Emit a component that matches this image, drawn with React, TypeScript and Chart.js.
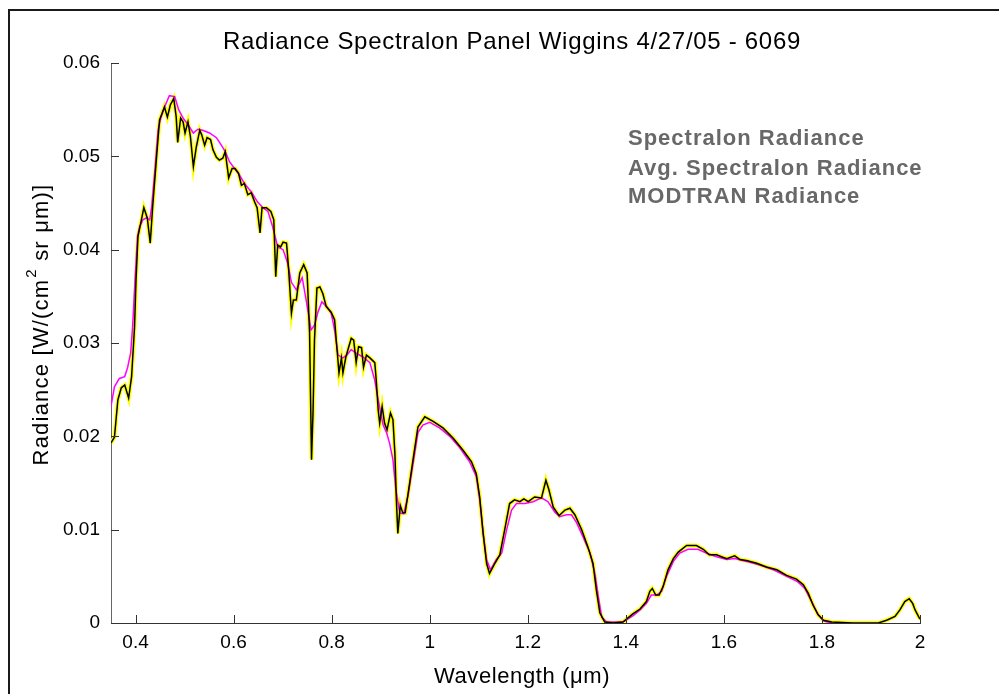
import React, { useEffect, useRef } from "react";
import { Chart, registerables } from "chart.js";

Chart.register(...registerables);

const TITLE = "Radiance Spectralon Panel Wiggins 4/27/05 - 6069";
const X_LABEL = "Wavelength (\u03bcm)";
const Y_LABEL_PARTS = ["Radiance [W/(cm", "2", " sr \u03bcm)]"];
const SERIES_NAMES = ["Spectralon Radiance", "Avg. Spectralon Radiance", "MODTRAN Radiance"];

const X_TICKS = [0.4, 0.6, 0.8, 1.0, 1.2, 1.4, 1.6, 1.8, 2.0];
const X_TICK_LABELS = ["0.4", "0.6", "0.8", "1", "1.2", "1.4", "1.6", "1.8", "2"];
const Y_TICKS = [0, 0.01, 0.02, 0.03, 0.04, 0.05, 0.06];
const Y_TICK_LABELS = ["0", "0.01", "0.02", "0.03", "0.04", "0.05", "0.06"];

// Measured spectralon (avg) spectrum
const avgWavelength = [
  0.350, 0.357, 0.364, 0.371, 0.378, 0.386, 0.392, 0.398, 0.401, 0.405,
  0.412, 0.417, 0.424, 0.430, 0.435, 0.442, 0.449, 0.454, 0.459, 0.465,
  0.471, 0.478, 0.483, 0.486, 0.492, 0.497, 0.501, 0.507, 0.512, 0.518,
  0.524, 0.531, 0.535, 0.541, 0.546, 0.553, 0.558, 0.565, 0.571, 0.578,
  0.583, 0.590, 0.597, 0.603, 0.610, 0.616, 0.622, 0.629, 0.636, 0.643,
  0.648, 0.654, 0.658, 0.667, 0.676, 0.682, 0.686, 0.690, 0.696, 0.701,
  0.708, 0.712, 0.718, 0.722, 0.728, 0.735, 0.743, 0.750, 0.755, 0.759,
  0.762, 0.765, 0.770, 0.776, 0.782, 0.789, 0.799, 0.806, 0.811, 0.815,
  0.820, 0.823, 0.829, 0.835, 0.840, 0.845, 0.850, 0.855, 0.861, 0.865,
  0.871, 0.878, 0.888, 0.891, 0.895, 0.898, 0.903, 0.908, 0.913, 0.920,
  0.925, 0.929, 0.932, 0.935, 0.940, 0.945, 0.950, 0.956, 0.966, 0.976,
  0.990, 1.007, 1.027, 1.048, 1.068, 1.085, 1.095, 1.102, 1.109, 1.116,
  1.122, 1.133, 1.143, 1.153, 1.163, 1.173, 1.184, 1.192, 1.201, 1.214,
  1.228, 1.237, 1.243, 1.252, 1.264, 1.276, 1.286, 1.296, 1.310, 1.323,
  1.333, 1.340, 1.347, 1.357, 1.374, 1.394, 1.415, 1.429, 1.442, 1.449,
  1.454, 1.461, 1.468, 1.476, 1.486, 1.497, 1.507, 1.524, 1.544, 1.558,
  1.570, 1.585, 1.595, 1.606, 1.622, 1.633, 1.646, 1.667, 1.687, 1.708,
  1.728, 1.748, 1.762, 1.772, 1.782, 1.792, 1.803, 1.820, 1.863, 1.915,
  1.932, 1.949, 1.959, 1.969, 1.978, 1.985, 1.990, 1.995, 2.000,
];
const avgRadiance = [
  0.0193, 0.0199, 0.0239, 0.0252, 0.0255, 0.0241, 0.0264, 0.0317, 0.0367, 0.0414,
  0.0432, 0.0445, 0.0434, 0.0407, 0.0446, 0.0493, 0.0539, 0.0546, 0.0553, 0.0542,
  0.0555, 0.0562, 0.0542, 0.0515, 0.0541, 0.0537, 0.0525, 0.0537, 0.0521, 0.0489,
  0.0510, 0.0528, 0.0523, 0.0512, 0.0520, 0.0518, 0.0507, 0.0499, 0.0496, 0.0498,
  0.0505, 0.0477, 0.0487, 0.0487, 0.0482, 0.0469, 0.0471, 0.0459, 0.0461, 0.0451,
  0.0445, 0.0418, 0.0445, 0.0445, 0.0441, 0.0432, 0.0371, 0.0405, 0.0403, 0.0408,
  0.0407, 0.0381, 0.0332, 0.0346, 0.0346, 0.0375, 0.0384, 0.0375, 0.0311, 0.0175,
  0.0225, 0.0303, 0.0359, 0.0360, 0.0353, 0.0339, 0.0333, 0.0325, 0.0293, 0.0268,
  0.0284, 0.0268, 0.0285, 0.0296, 0.0305, 0.0303, 0.0279, 0.0296, 0.0295, 0.0274,
  0.0287, 0.0284, 0.0279, 0.0260, 0.0228, 0.0214, 0.0232, 0.0214, 0.0207, 0.0225,
  0.0218, 0.0182, 0.0132, 0.0096, 0.0126, 0.0118, 0.0118, 0.0139, 0.0175, 0.0210,
  0.0221, 0.0216, 0.0209, 0.0198, 0.0185, 0.0173, 0.0160, 0.0135, 0.0096, 0.0064,
  0.0053, 0.0064, 0.0073, 0.0100, 0.0128, 0.0132, 0.0130, 0.0133, 0.0130, 0.0135,
  0.0134, 0.0153, 0.0143, 0.0124, 0.0115, 0.0121, 0.0123, 0.0116, 0.0100, 0.0081,
  0.0064, 0.0035, 0.0011, 0.0001, 0.0000, 0.0001, 0.0010, 0.0015, 0.0023, 0.0034,
  0.0037, 0.0030, 0.0030, 0.0039, 0.0057, 0.0069, 0.0076, 0.0083, 0.0083, 0.0079,
  0.0073, 0.0073, 0.0071, 0.0069, 0.0072, 0.0068, 0.0067, 0.0064, 0.0060, 0.0057,
  0.0051, 0.0047, 0.0041, 0.0032, 0.0019, 0.0009, 0.0003, 0.0001, 0.0000, 0.0000,
  0.0003, 0.0007, 0.0014, 0.0023, 0.0026, 0.0021, 0.0014, 0.0009, 0.0004,
];

// MODTRAN model spectrum
const modWavelength = [
  0.350, 0.357, 0.367, 0.378, 0.384, 0.390, 0.394, 0.399, 0.404, 0.408,
  0.415, 0.422, 0.429, 0.433, 0.439, 0.446, 0.452, 0.461, 0.469, 0.480,
  0.488, 0.497, 0.507, 0.518, 0.527, 0.537, 0.551, 0.565, 0.575, 0.583,
  0.592, 0.602, 0.612, 0.622, 0.636, 0.649, 0.660, 0.670, 0.680, 0.690,
  0.701, 0.710, 0.718, 0.728, 0.740, 0.748, 0.758, 0.765, 0.772, 0.780,
  0.790, 0.799, 0.806, 0.813, 0.823, 0.831, 0.840, 0.850, 0.864, 0.878,
  0.888, 0.895, 0.905, 0.912, 0.918, 0.925, 0.931, 0.939, 0.947, 0.956,
  0.965, 0.976, 0.986, 1.000, 1.020, 1.041, 1.061, 1.081, 1.095, 1.102,
  1.109, 1.116, 1.124, 1.136, 1.147, 1.157, 1.167, 1.177, 1.194, 1.211,
  1.228, 1.241, 1.255, 1.265, 1.279, 1.289, 1.299, 1.313, 1.327, 1.337,
  1.344, 1.351, 1.361, 1.394, 1.415, 1.429, 1.442, 1.452, 1.463, 1.473,
  1.483, 1.497, 1.510, 1.527, 1.547, 1.564, 1.585, 1.606, 1.622, 1.646,
  1.673, 1.701, 1.728, 1.751, 1.765, 1.779, 1.792, 1.804, 1.820,
];
const modRadiance = [
  0.0232, 0.0253, 0.0262, 0.0264, 0.0274, 0.0289, 0.0317, 0.0367, 0.0414, 0.0424,
  0.0432, 0.0434, 0.0432, 0.0446, 0.0482, 0.0528, 0.0542, 0.0555, 0.0565, 0.0564,
  0.0550, 0.0541, 0.0534, 0.0525, 0.0529, 0.0528, 0.0525, 0.0520, 0.0512, 0.0505,
  0.0494, 0.0487, 0.0480, 0.0471, 0.0462, 0.0451, 0.0445, 0.0441, 0.0424, 0.0403,
  0.0400, 0.0386, 0.0365, 0.0357, 0.0370, 0.0346, 0.0314, 0.0319, 0.0333, 0.0344,
  0.0339, 0.0332, 0.0314, 0.0287, 0.0284, 0.0287, 0.0293, 0.0289, 0.0285, 0.0279,
  0.0260, 0.0239, 0.0212, 0.0204, 0.0193, 0.0175, 0.0143, 0.0118, 0.0117, 0.0137,
  0.0167, 0.0204, 0.0212, 0.0215, 0.0209, 0.0200, 0.0188, 0.0173, 0.0157, 0.0132,
  0.0096, 0.0068, 0.0057, 0.0068, 0.0075, 0.0100, 0.0121, 0.0128, 0.0128, 0.0130,
  0.0134, 0.0130, 0.0119, 0.0114, 0.0116, 0.0116, 0.0108, 0.0092, 0.0075, 0.0053,
  0.0028, 0.0006, 0.0001, 0.0001, 0.0008, 0.0014, 0.0021, 0.0030, 0.0030, 0.0034,
  0.0050, 0.0066, 0.0075, 0.0079, 0.0079, 0.0075, 0.0071, 0.0068, 0.0069, 0.0066,
  0.0062, 0.0057, 0.0050, 0.0044, 0.0037, 0.0023, 0.0009, 0.0002, 0.0000,
];

const FONT = '"Liberation Sans", Arial, Helvetica, sans-serif';

const toPoints = (xs: number[], ys: number[]) => xs.map((x, i) => ({ x, y: ys[i] }));

const setSpacing = (ctx: any, px: number) => {
  if ("letterSpacing" in ctx) ctx.letterSpacing = `${px}px`;
};

const decorPlugin = {
  id: "decor",
  afterDraw(chart: any) {
    const ctx = chart.ctx as CanvasRenderingContext2D;
    const area = chart.chartArea;
    const xs = chart.scales.x;
    const ys = chart.scales.y;
    ctx.save();

    // figure frame (left and top edges visible)
    ctx.strokeStyle = "#1a1a1a";
    ctx.lineWidth = 2;
    ctx.beginPath();
    ctx.moveTo(9, 694);
    ctx.lineTo(9, 10);
    ctx.lineTo(999, 10);
    ctx.stroke();

    // inward tick marks
    ctx.strokeStyle = "#333";
    ctx.lineWidth = 1;
    ctx.beginPath();
    X_TICKS.forEach((v) => {
      const px = Math.round(xs.getPixelForValue(v)) + 0.5;
      ctx.moveTo(px, area.bottom);
      ctx.lineTo(px, area.bottom - 8);
    });
    Y_TICKS.forEach((v) => {
      const py = Math.round(ys.getPixelForValue(v)) + 0.5;
      ctx.moveTo(area.left, py);
      ctx.lineTo(area.left + 8, py);
    });
    ctx.stroke();

    ctx.fillStyle = "#000";
    // title
    ctx.font = `24px ${FONT}`;
    setSpacing(ctx, 0.7);
    ctx.textAlign = "center";
    ctx.textBaseline = "alphabetic";
    ctx.fillText(TITLE, 512, 49);

    // x axis title
    ctx.font = `22px ${FONT}`;
    setSpacing(ctx, 0.6);
    ctx.textBaseline = "middle";
    ctx.fillText(X_LABEL, 522, 677);

    // y axis title with superscript
    ctx.save();
    ctx.translate(42, 325);
    ctx.rotate(-Math.PI / 2);
    const mainFont = `22px ${FONT}`;
    const supFont = `15px ${FONT}`;
    setSpacing(ctx, 1.2);
    ctx.font = mainFont;
    const w1 = ctx.measureText(Y_LABEL_PARTS[0]).width;
    const w3 = ctx.measureText(Y_LABEL_PARTS[2]).width;
    ctx.font = supFont;
    const w2 = ctx.measureText(Y_LABEL_PARTS[1]).width;
    const total = w1 + w2 + w3;
    let x0 = -total / 2;
    ctx.textAlign = "left";
    ctx.textBaseline = "middle";
    ctx.font = mainFont;
    ctx.fillText(Y_LABEL_PARTS[0], x0, 0);
    x0 += w1;
    ctx.font = supFont;
    ctx.fillText(Y_LABEL_PARTS[1], x0 + 1, -10);
    x0 += w2 + 1;
    ctx.font = mainFont;
    ctx.fillText(Y_LABEL_PARTS[2], x0, 0);
    ctx.restore();

    // legend text
    ctx.font = `bold 22px ${FONT}`;
    setSpacing(ctx, 1);
    ctx.fillStyle = "#686868";
    ctx.textAlign = "left";
    ctx.textBaseline = "middle";
    const legendY = [139, 169, 197];
    SERIES_NAMES.forEach((name, i) => ctx.fillText(name, 628, legendY[i]));
    setSpacing(ctx, 0);

    ctx.restore();
  },
};

export default function App() {
  const ref = useRef<HTMLCanvasElement>(null);

  useEffect(() => {
    const canvas = ref.current;
    if (!canvas) return;
    const chart = new Chart(canvas, {
      type: "line",
      data: {
        datasets: [
          {
            label: SERIES_NAMES[0],
            data: toPoints(avgWavelength, avgRadiance),
            borderColor: "#ffff00",
            borderWidth: 4,
            pointRadius: 0,
            tension: 0,
            order: 3,
          },
          {
            label: SERIES_NAMES[1],
            data: toPoints(avgWavelength, avgRadiance),
            borderColor: "#000000",
            borderWidth: 1.5,
            pointRadius: 0,
            tension: 0,
            order: 1,
          },
          {
            label: SERIES_NAMES[2],
            data: toPoints(modWavelength, modRadiance),
            borderColor: "#ff00ff",
            borderWidth: 1.5,
            pointRadius: 0,
            tension: 0,
            order: 2,
          },
        ],
      },
      options: {
        responsive: false,
        animation: false,
        devicePixelRatio: 1,
        layout: { padding: { left: 0, top: 63, right: 79, bottom: 0 } },
        plugins: {
          legend: { display: false },
          tooltip: { enabled: false },
          title: { display: false },
        },
        scales: {
          x: {
            type: "linear",
            min: 0.35,
            max: 2.0,
            afterFit: (s: any) => {
              s.height = 71;
            },
            afterBuildTicks: (s: any) => {
              s.ticks = X_TICKS.map((v) => ({ value: v }));
            },
            ticks: {
              autoSkip: false,
              maxRotation: 0,
              padding: 8,
              color: "#000",
              font: { family: FONT, size: 19 },
              callback: (_v: any, i: number) => X_TICK_LABELS[i],
            },
            grid: { display: false, drawTicks: false },
            border: { display: true, color: "#333", width: 1 },
          },
          y: {
            type: "linear",
            min: 0,
            max: 0.06,
            afterFit: (s: any) => {
              s.width = 111;
            },
            afterBuildTicks: (s: any) => {
              s.ticks = Y_TICKS.map((v) => ({ value: v }));
            },
            ticks: {
              autoSkip: false,
              padding: 11,
              color: "#000",
              font: { family: FONT, size: 19 },
              callback: (_v: any, i: number) => Y_TICK_LABELS[i],
            },
            grid: { display: false, drawTicks: false },
            border: { display: true, color: "#666", width: 1 },
          },
        },
      },
      plugins: [decorPlugin],
    });
    return () => chart.destroy();
  }, []);

  return (
    <div
      style={{
        position: "fixed",
        left: 0,
        top: 0,
        width: 999,
        height: 694,
        background: "#fff",
      }}
    >
      <canvas ref={ref} width={999} height={694} style={{ display: "block" }} />
    </div>
  );
}
